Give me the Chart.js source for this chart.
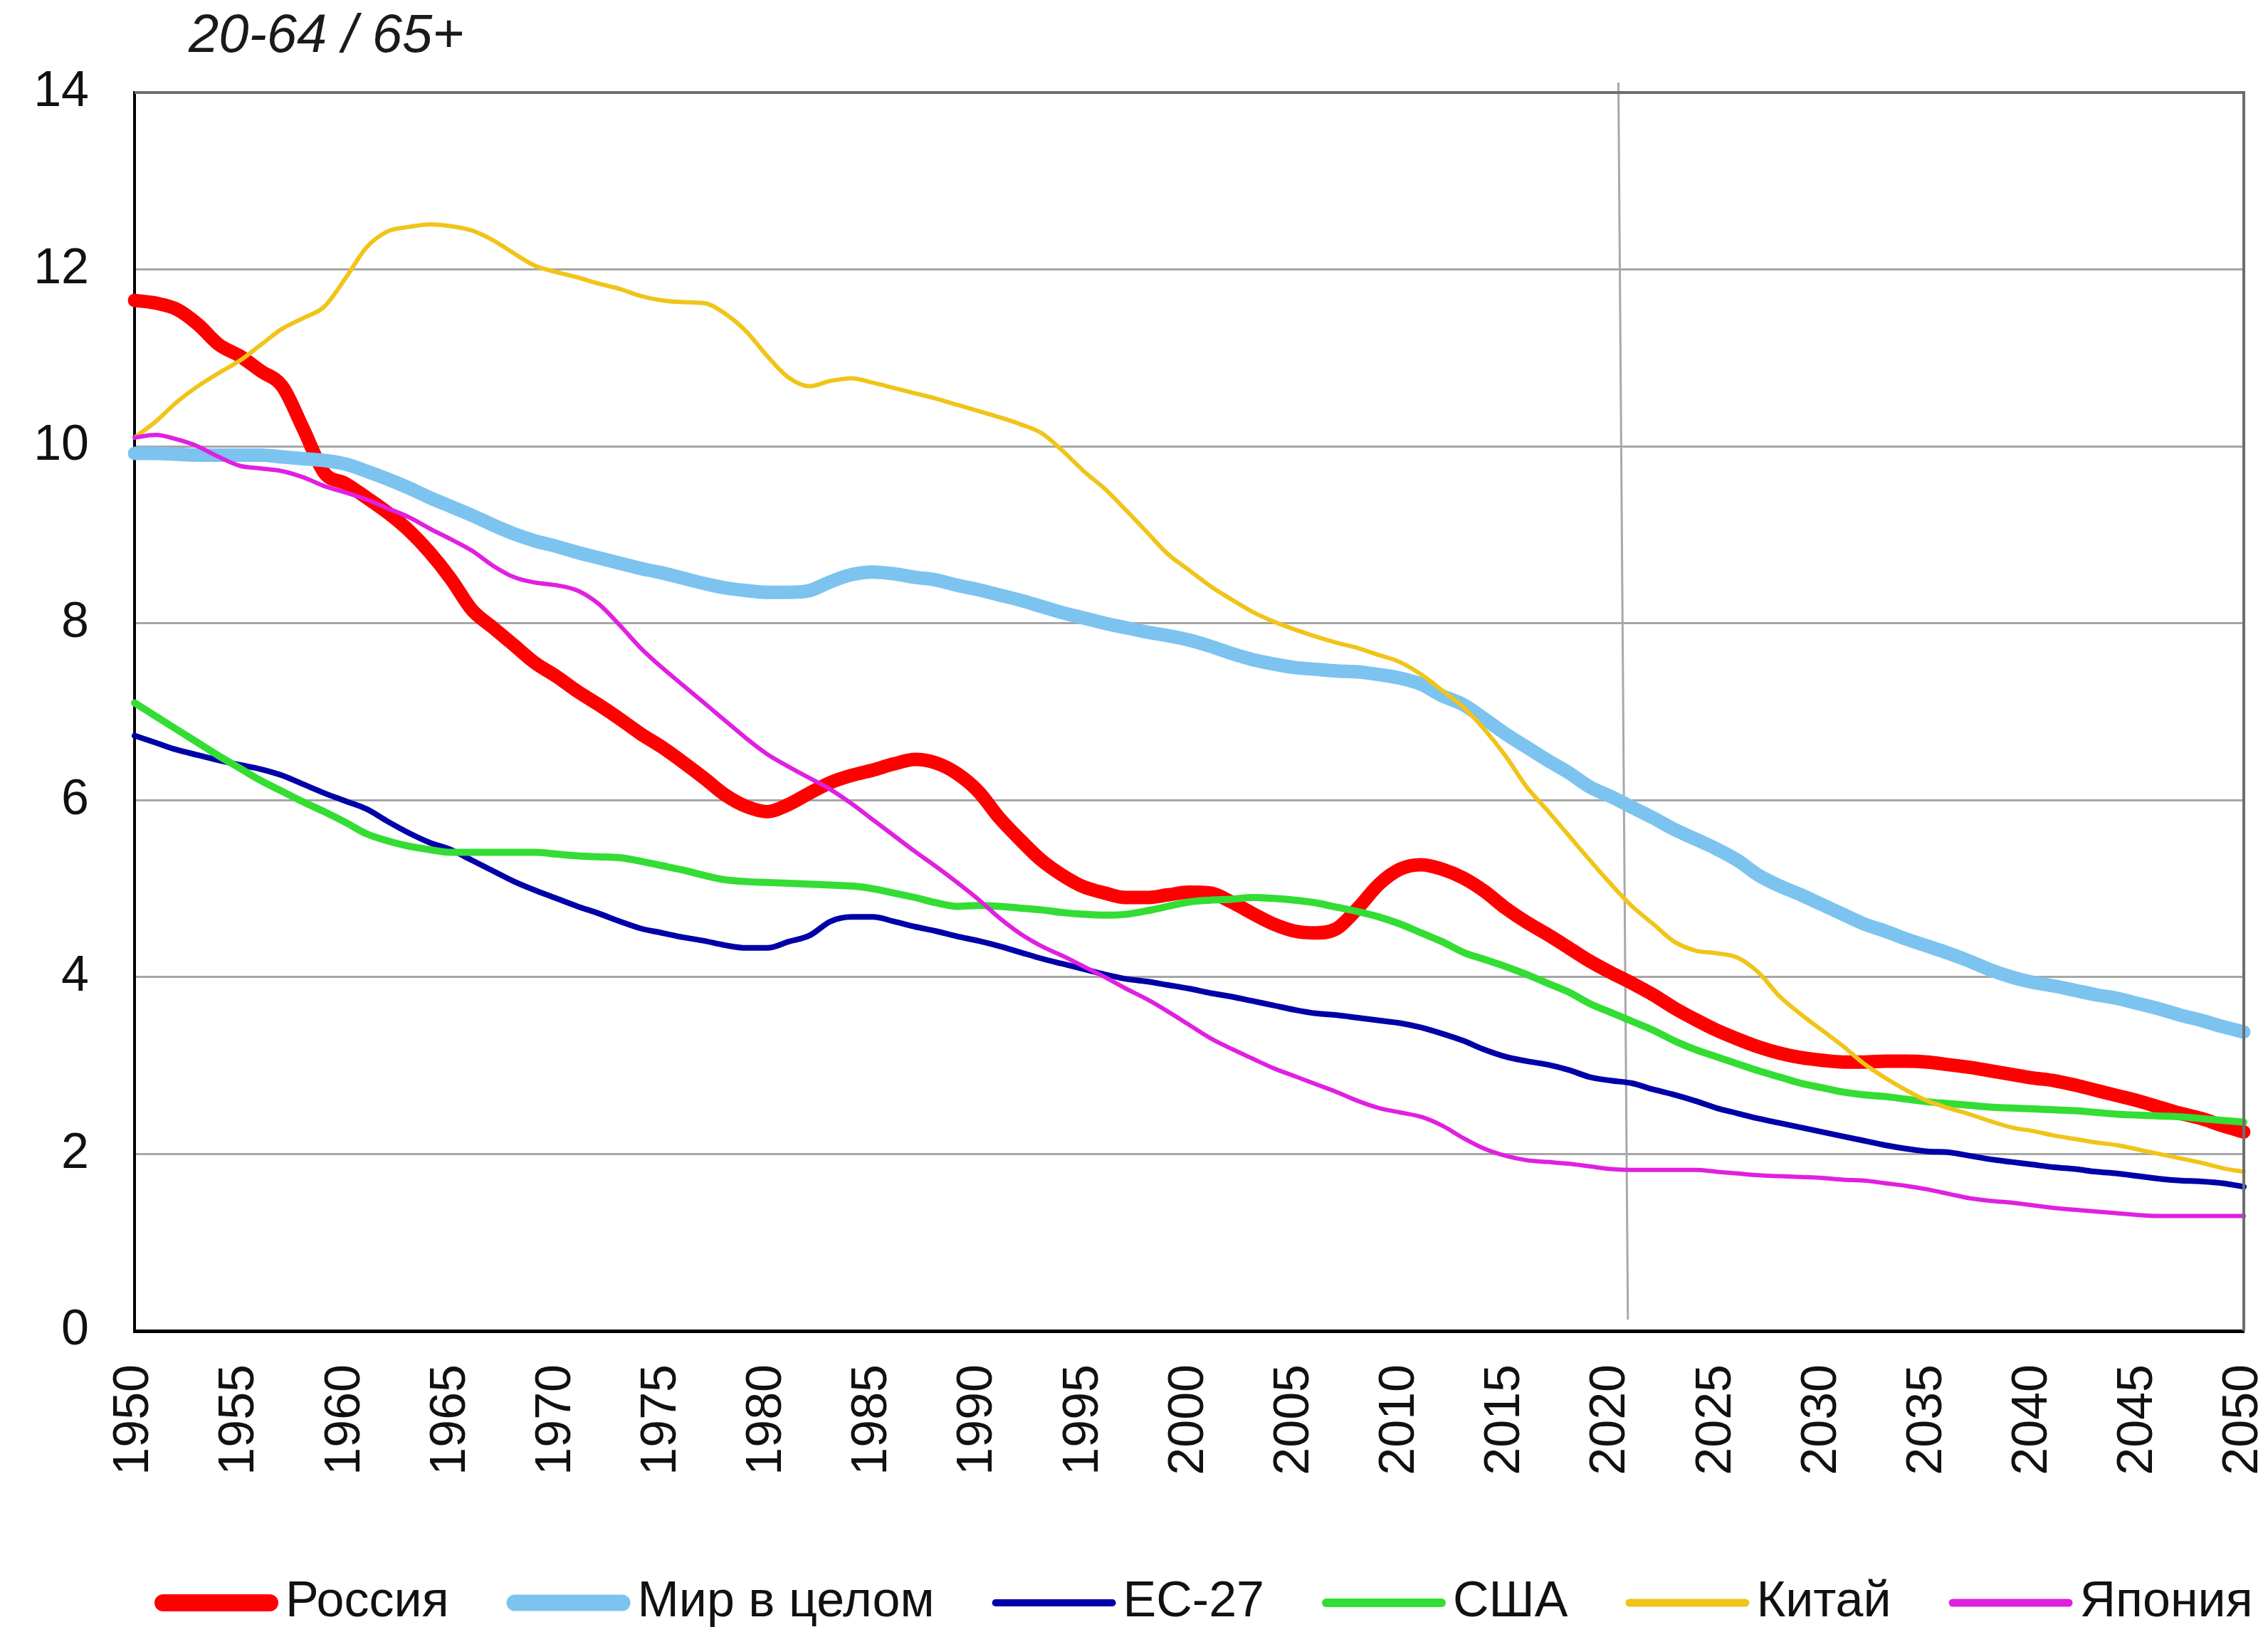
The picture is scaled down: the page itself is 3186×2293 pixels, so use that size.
<!DOCTYPE html>
<html>
<head>
<meta charset="utf-8">
<script src="https://cdn.jsdelivr.net/npm/chart.js@4/dist/chart.umd.min.js"></script>
<style>
html,body{margin:0;padding:0;background:#ffffff;}
#wrap{width:3186px;height:2293px;}
</style>
</head>
<body>
<div id="wrap"><canvas id="c" width="3186" height="2293"></canvas></div>
<script>
// ---------- DATA ----------
const years = [
 1950,1951,1952,1953,1954,1955,1956,1957,1958,1959,
 1960,1961,1962,1963,1964,1965,1966,1967,1968,1969,
 1970,1971,1972,1973,1974,1975,1976,1977,1978,1979,
 1980,1981,1982,1983,1984,1985,1986,1987,1988,1989,
 1990,1991,1992,1993,1994,1995,1996,1997,1998,1999,
 2000,2001,2002,2003,2004,2005,2006,2007,2008,2009,
 2010,2011,2012,2013,2014,2015,2016,2017,2018,2019,
 2020,2021,2022,2023,2024,2025,2026,2027,2028,2029,
 2030,2031,2032,2033,2034,2035,2036,2037,2038,2039,
 2040,2041,2042,2043,2044,2045,2046,2047,2048,2049,
 2050];

const tickYears = [1950,1955,1960,1965,1970,1975,1980,1985,1990,1995,2000,
                   2005,2010,2015,2020,2025,2030,2035,2040,2045,2050];

const yTicks = [0,2,4,6,8,10,12,14];

const seriesNames = ['Россия','Мир в целом','ЕС-27','США','Китай','Япония'];

const russia = [
 11.65,11.62,11.55,11.38,11.15,11.02,10.85,10.68,10.20,9.70,
 9.58,9.42,9.25,9.05,8.80,8.50,8.15,7.95,7.75,7.55,
 7.40,7.23,7.08,6.92,6.75,6.60,6.43,6.25,6.06,5.93,
 5.87,5.95,6.08,6.20,6.28,6.34,6.41,6.46,6.42,6.30,
 6.10,5.80,5.55,5.32,5.15,5.02,4.95,4.90,4.90,4.93,
 4.96,4.95,4.85,4.72,4.60,4.52,4.50,4.55,4.78,5.05,
 5.22,5.27,5.22,5.12,4.97,4.78,4.62,4.48,4.33,4.18,
 4.05,3.93,3.80,3.65,3.52,3.40,3.30,3.21,3.14,3.09,
 3.06,3.04,3.04,3.05,3.05,3.04,3.01,2.98,2.94,2.90,
 2.86,2.83,2.78,2.72,2.66,2.60,2.53,2.46,2.40,2.32,
 2.25];

const world = [
 9.92,9.92,9.91,9.90,9.90,9.90,9.90,9.88,9.86,9.84,
 9.80,9.72,9.63,9.53,9.42,9.32,9.22,9.11,9.01,8.93,
 8.87,8.80,8.74,8.68,8.62,8.57,8.51,8.45,8.40,8.37,
 8.35,8.35,8.37,8.47,8.55,8.58,8.56,8.52,8.49,8.43,
 8.38,8.32,8.26,8.19,8.12,8.06,8.00,7.95,7.90,7.86,
 7.81,7.74,7.66,7.59,7.54,7.50,7.48,7.46,7.45,7.42,
 7.38,7.31,7.18,7.08,6.92,6.75,6.60,6.45,6.31,6.15,
 6.04,5.92,5.80,5.67,5.56,5.45,5.32,5.15,5.03,4.93,
 4.82,4.71,4.60,4.52,4.43,4.35,4.27,4.18,4.08,4.00,
 3.94,3.90,3.85,3.80,3.76,3.70,3.64,3.57,3.51,3.44,
 3.38];

const eu27 = [
 6.73,6.65,6.57,6.51,6.45,6.40,6.35,6.28,6.18,6.08,
 5.99,5.90,5.76,5.63,5.52,5.44,5.32,5.20,5.08,4.98,
 4.89,4.80,4.72,4.63,4.55,4.50,4.45,4.41,4.36,4.33,
 4.33,4.40,4.47,4.63,4.68,4.68,4.63,4.57,4.52,4.46,
 4.41,4.35,4.28,4.21,4.15,4.09,4.03,3.98,3.95,3.91,
 3.87,3.82,3.78,3.73,3.68,3.63,3.59,3.57,3.54,3.51,
 3.48,3.43,3.36,3.28,3.18,3.10,3.05,3.01,2.95,2.87,
 2.83,2.80,2.73,2.67,2.60,2.52,2.46,2.40,2.35,2.30,
 2.25,2.20,2.15,2.10,2.06,2.03,2.02,1.98,1.94,1.91,
 1.88,1.85,1.83,1.80,1.78,1.75,1.72,1.70,1.69,1.67,
 1.63];

const usa = [
 7.10,6.95,6.80,6.65,6.50,6.36,6.22,6.10,5.98,5.87,
 5.75,5.62,5.54,5.48,5.44,5.41,5.41,5.41,5.41,5.41,
 5.39,5.37,5.36,5.35,5.31,5.26,5.21,5.15,5.10,5.08,
 5.07,5.06,5.05,5.04,5.03,5.00,4.95,4.90,4.84,4.80,
 4.81,4.80,4.78,4.76,4.73,4.71,4.70,4.71,4.75,4.80,
 4.85,4.87,4.88,4.90,4.89,4.87,4.84,4.79,4.74,4.68,
 4.60,4.50,4.40,4.28,4.20,4.12,4.03,3.93,3.83,3.70,
 3.60,3.50,3.40,3.28,3.18,3.10,3.02,2.94,2.87,2.80,
 2.75,2.70,2.67,2.65,2.62,2.59,2.57,2.55,2.53,2.52,
 2.51,2.50,2.49,2.47,2.45,2.44,2.43,2.42,2.40,2.38,
 2.36];

const china = [
 10.10,10.28,10.50,10.68,10.83,10.97,11.15,11.33,11.45,11.58,
 11.90,12.25,12.43,12.48,12.51,12.49,12.44,12.33,12.18,12.04,
 11.97,11.91,11.84,11.78,11.70,11.65,11.63,11.62,11.50,11.30,
 11.02,10.78,10.68,10.74,10.77,10.72,10.66,10.60,10.54,10.47,
 10.40,10.33,10.25,10.15,9.95,9.72,9.52,9.28,9.03,8.78,
 8.60,8.42,8.27,8.13,8.02,7.93,7.85,7.78,7.72,7.64,
 7.56,7.42,7.24,7.05,6.80,6.50,6.15,5.88,5.60,5.32,
 5.05,4.80,4.60,4.40,4.30,4.27,4.22,4.05,3.78,3.58,
 3.40,3.22,3.02,2.86,2.72,2.60,2.52,2.45,2.37,2.30,
 2.26,2.21,2.17,2.13,2.10,2.05,2.00,1.95,1.90,1.84,
 1.80];

const japan = [
 10.10,10.13,10.08,10.00,9.88,9.78,9.75,9.72,9.65,9.55,
 9.48,9.40,9.30,9.20,9.07,8.95,8.82,8.65,8.52,8.46,
 8.43,8.37,8.22,7.98,7.72,7.50,7.30,7.10,6.90,6.70,
 6.52,6.38,6.25,6.12,5.96,5.78,5.60,5.42,5.25,5.07,
 4.88,4.67,4.49,4.35,4.24,4.12,4.00,3.87,3.75,3.61,
 3.46,3.31,3.19,3.08,2.97,2.88,2.79,2.70,2.60,2.52,
 2.47,2.42,2.32,2.18,2.06,1.98,1.93,1.91,1.89,1.86,
 1.83,1.82,1.82,1.82,1.82,1.80,1.78,1.76,1.75,1.74,
 1.73,1.71,1.70,1.67,1.64,1.60,1.55,1.50,1.47,1.45,
 1.42,1.39,1.37,1.35,1.33,1.31,1.30,1.30,1.30,1.30,
 1.30];

const chartTitle = '20-64 / 65+';
const markerYear = 2020.55;

// ---------- STYLES ----------
const FONT = '"Liberation Sans", Arial, Helvetica, sans-serif';
const colors  = ['#ff0000', '#7cc3f0', '#0000a8', '#33dd33', '#f0c419', '#e020e0'];
const widths  = [19, 19, 8, 10, 6, 6];
const legendWidths = [24, 23, 10, 12, 11, 11];
const seriesData = [russia, world, eu27, usa, china, japan];

const datasets = seriesNames.map((name, i) => ({
  label: name,
  data: seriesData[i],
  borderColor: colors[i],
  backgroundColor: colors[i],
  borderWidth: widths[i],
  borderCapStyle: 'round',
  borderJoinStyle: 'round',
  pointRadius: 0,
  pointHoverRadius: 0,
  fill: false,
  cubicInterpolationMode: 'monotone',
  order: seriesNames.length - i
}));

// frame (top/right border) + vertical marker line
const framePlugin = {
  id: 'frame',
  beforeDatasetsDraw(chart) {
    const {ctx, chartArea, scales} = chart;
    const x = scales.x;
    const i0 = markerYear - years[0];
    const xTop = x.getPixelForValue(i0 - 0.2);
    const xBot = x.getPixelForValue(i0 + 0.25);
    ctx.save();
    ctx.strokeStyle = '#a9a9a9';
    ctx.lineWidth = 3;
    ctx.beginPath();
    ctx.moveTo(xTop, chartArea.top - 14);
    ctx.lineTo(xBot, chartArea.bottom - 16);
    ctx.stroke();
    ctx.restore();
  },
  afterDatasetsDraw(chart) {
    const {ctx, chartArea} = chart;
    ctx.save();
    ctx.strokeStyle = '#6e6e6e';
    ctx.lineWidth = 4;
    ctx.beginPath();
    ctx.moveTo(chartArea.left, chartArea.top);
    ctx.lineTo(chartArea.right, chartArea.top);
    ctx.lineTo(chartArea.right, chartArea.bottom);
    ctx.stroke();
    ctx.restore();
  }
};

// corner title
const titlePlugin = {
  id: 'cornerTitle',
  afterDraw(chart) {
    const ctx = chart.ctx;
    ctx.save();
    ctx.font = 'italic 76px ' + FONT;
    ctx.fillStyle = '#1a1a1a';
    ctx.textBaseline = 'middle';
    ctx.textAlign = 'left';
    ctx.fillText(chartTitle, 265, 52);
    ctx.restore();
  }
};

// legend drawn in a single row
const legendPlugin = {
  id: 'lineLegend',
  afterDraw(chart) {
    const ctx = chart.ctx;
    const sample = 174, gap = 10, itemGap = 81;
    let x = 217;
    const y = 2252;
    ctx.save();
    ctx.font = '70px ' + FONT;
    ctx.textBaseline = 'middle';
    ctx.textAlign = 'left';
    chart.data.datasets.forEach((ds, i) => {
      const lw = legendWidths[i];
      ctx.strokeStyle = ds.borderColor;
      ctx.lineWidth = lw;
      ctx.lineCap = 'round';
      ctx.beginPath();
      ctx.moveTo(x + lw / 2, y);
      ctx.lineTo(x + sample - lw / 2, y);
      ctx.stroke();
      x += sample + gap;
      ctx.fillStyle = '#111';
      ctx.fillText(ds.label, x, y);
      x += ctx.measureText(ds.label).width + itemGap;
    });
    ctx.restore();
  }
};

new Chart(document.getElementById('c'), {
  type: 'line',
  data: { labels: years, datasets },
  options: {
    responsive: false,
    animation: false,
    devicePixelRatio: 1,
    layout: { padding: { top: 130, right: 34, bottom: 0, left: 0 } },
    plugins: {
      legend: { display: false },
      title: { display: false },
      tooltip: { enabled: false }
    },
    scales: {
      x: {
        type: 'category',
        offset: false,
        grid: { display: false, drawTicks: false },
        border: { display: true, color: '#000', width: 5 },
        ticks: {
          autoSkip: false,
          minRotation: 90,
          maxRotation: 90,
          padding: 47,
          color: '#111',
          font: { family: FONT, size: 70 },
          callback: function (v, i) {
            const yr = years[i];
            return tickYears.includes(yr) ? String(yr) : null;
          }
        },
        afterFit(s) { s.height = 423; s.paddingRight = 0; s.paddingLeft = 0; }
      },
      y: {
        min: yTicks[0],
        max: yTicks[yTicks.length - 1],
        afterBuildTicks(s) { s.ticks = yTicks.map(v => ({ value: v })); },
        grid: { color: '#a6a6a6', lineWidth: 3, drawTicks: false },
        border: { display: true, color: '#000', width: 4 },
        ticks: {
          padding: 64,
          color: '#111',
          font: { family: FONT, size: 70 }
        },
        afterFit(s) { s.width = 189; }
      }
    }
  },
  plugins: [framePlugin, titlePlugin, legendPlugin]
});
</script>
</body>
</html>
